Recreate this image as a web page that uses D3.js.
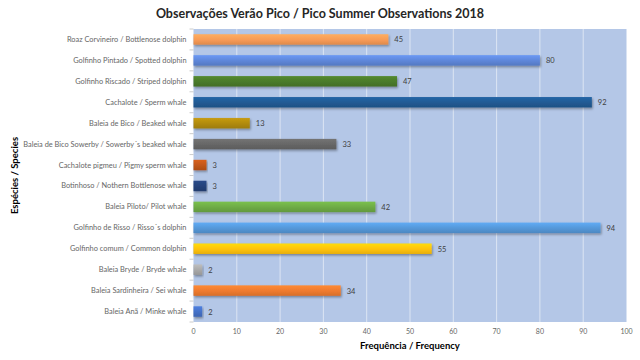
<!DOCTYPE html>
<html><head><meta charset="utf-8">
<script src="https://cdn.jsdelivr.net/npm/d3@7"></script>
<style>body{margin:0;background:#fff;} svg{display:block;}</style>
</head><body>
<svg id="c" width="640" height="360"></svg>
<script>
const categories = [
 "Roaz Corvineiro / Bottlenose dolphin",
 "Golfinho Pintado / Spotted dolphin",
 "Golfinho Riscado / Striped dolphin",
 "Cachalote / Sperm whale",
 "Baleia de Bico / Beaked whale",
 "Baleia de Bico Sowerby / Sowerby´s beaked whale",
 "Cachalote pigmeu / Pigmy sperm whale",
 "Botinhoso / Nothern Bottlenose whale",
 "Baleia Piloto/ Pilot whale",
 "Golfinho de Risso / Risso´s dolphin",
 "Golfinho comum / Common dolphin",
 "Baleia Bryde / Bryde whale",
 "Baleia Sardinheira / Sei whale",
 "Baleia Anã / Minke whale"
];
const values = [45, 80, 47, 92, 13, 33, 3, 3, 42, 94, 55, 2, 34, 2];
const colors = ["#F79A55","#5E86D8","#4A7A2A","#215A93","#B08A10","#666666","#C0561A","#25427A","#6DAA45","#5597D8","#FFC20A","#A8A8A8","#EE7A2E","#4470C6"];
const xTicks = [0,10,20,30,40,50,60,70,80,90,100];
const title = "Observações Verão Pico / Pico Summer Observations 2018";
const xTitle = "Frequência / Frequency";
const yTitle = "Espécies / Species";

const svg = d3.select("#c");
const L = 193.5, R = 626.5, T = 29, B = 322;
const x = d3.scaleLinear().domain([0,100]).range([L,R]);
const y = d3.scaleBand().domain(categories).range([T,B]).paddingInner(0.5).paddingOuter(0.25);
const font = "Lato, 'Open Sans', sans-serif";

svg.append("rect").attr("x",L).attr("y",T).attr("width",R-L).attr("height",B-T).attr("fill","#B4C7E7");

svg.append("g").selectAll("line").data(xTicks.slice(1,-1)).join("line")
  .attr("x1",d=>x(d)).attr("x2",d=>x(d)).attr("y1",T).attr("y2",B)
  .attr("stroke","#DCE5F3").attr("stroke-width",1);

const step = (B-T)/categories.length;
svg.append("g").selectAll("line").data(d3.range(categories.length+1)).join("line")
  .attr("x1",L-4).attr("x2",L).attr("y1",i=>T+i*step).attr("y2",i=>T+i*step)
  .attr("stroke","#BFBFBF").attr("stroke-width",0.8);

const defs = svg.append("defs");
colors.forEach((c,i)=>{
  const g = defs.append("linearGradient").attr("id","g"+i).attr("x1",0).attr("x2",0).attr("y1",0).attr("y2",1);
  g.append("stop").attr("offset","0%").attr("stop-color",d3.color(c).brighter(0.35));
  g.append("stop").attr("offset","55%").attr("stop-color",c);
  g.append("stop").attr("offset","100%").attr("stop-color",d3.color(c).darker(0.3));
});
const f = defs.append("filter").attr("id","sh").attr("x","-5%").attr("y","-30%").attr("width","115%").attr("height","180%");
f.append("feDropShadow").attr("dx",1).attr("dy",1.5).attr("stdDeviation",0.8).attr("flood-color","#000").attr("flood-opacity",0.35);

svg.append("g").selectAll("rect").data(values).join("rect")
  .attr("x",x(0)).attr("y",(d,i)=>y(categories[i]))
  .attr("width",d=>x(d)-x(0)).attr("height",y.bandwidth())
  .attr("fill",(d,i)=>`url(#g${i})`).attr("filter","url(#sh)");

svg.append("g").selectAll("text").data(values).join("text")
  .attr("x",d=>x(d)+6).attr("y",(d,i)=>y(categories[i])+y.bandwidth()/2+3)
  .attr("font-family",font).attr("font-size",7.5).attr("fill","#404040").text(d=>d);

svg.append("g").selectAll("text").data(categories).join("text")
  .attr("x",L-7).attr("y",d=>y(d)+y.bandwidth()/2+2.5)
  .attr("text-anchor","end").attr("font-family",font).attr("font-size",7.4).attr("fill","#666666").text(d=>d);

svg.append("g").selectAll("text").data(xTicks).join("text")
  .attr("x",d=>x(d)).attr("y",334).attr("text-anchor","middle")
  .attr("font-family",font).attr("font-size",7).attr("fill","#666666").text(d=>d);

svg.append("text").attr("x",320).attr("y",18).attr("text-anchor","middle")
  .attr("font-family",font).attr("font-size",12.5).attr("font-weight","bold").attr("fill","#262626").text(title);
svg.append("text").attr("x",(L+R)/2).attr("y",349).attr("text-anchor","middle")
  .attr("font-family",font).attr("font-size",9.5).attr("font-weight","bold").attr("fill","#000").text(xTitle);
svg.append("text").attr("transform",`translate(18,${(T+B)/2}) rotate(-90)`).attr("text-anchor","middle")
  .attr("font-family",font).attr("font-size",9.5).attr("font-weight","bold").attr("fill","#000").text(yTitle);
</script>
</body></html>
